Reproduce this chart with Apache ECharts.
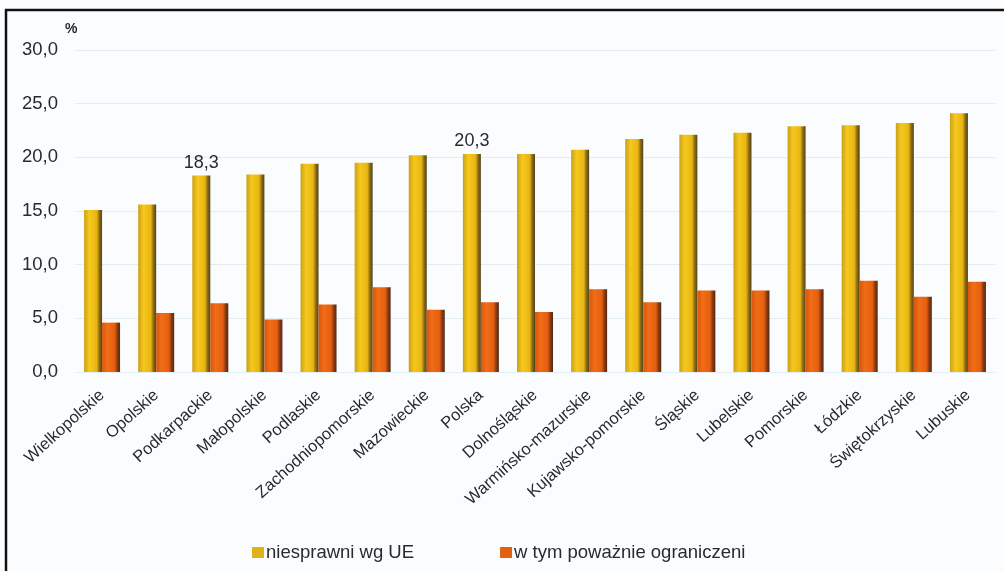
<!DOCTYPE html>
<html>
<head>
<meta charset="utf-8">
<script src="https://cdn.jsdelivr.net/npm/echarts@6/dist/echarts.min.js"></script>
<style>
html,body{margin:0;padding:0;background:#fbfcfe;}
#c{width:1004px;height:571px;}
</style>
</head>
<body>
<div id="c"></div>
<script>
const categories = ['Wielkopolskie','Opolskie','Podkarpackie','Małopolskie','Podlaskie','Zachodniopomorskie','Mazowieckie','Polska','Dolnośląskie','Warmińsko-mazurskie','Kujawsko-pomorskie','Śląskie','Lubelskie','Pomorskie','Łódzkie','Świętokrzyskie','Lubuskie'];
const niesprawni = [15.1, 15.6, 18.3, 18.4, 19.4, 19.5, 20.2, 20.3, 20.3, 20.7, 21.7, 22.1, 22.3, 22.9, 23.0, 23.2, 24.1];
const powaznie = [4.6, 5.5, 6.4, 4.9, 6.3, 7.9, 5.8, 6.5, 5.6, 7.7, 6.5, 7.6, 7.6, 7.7, 8.5, 7.0, 8.4];
const labelledCategories = ['Podkarpackie', 'Polska'];
const yTicks = [0, 5, 10, 15, 20, 25, 30];

const chart = echarts.init(document.getElementById('c'), null, {renderer: 'canvas'});
const font = 'Liberation Sans, Arial, sans-serif';
const txt = '#262b30';
const yellowGrad = new echarts.graphic.LinearGradient(0, 0, 1, 0, [
  {offset: 0, color: '#c9a11a'},
  {offset: 0.3, color: '#f6c81c'},
  {offset: 0.7, color: '#e8b513'},
  {offset: 0.85, color: '#8c6c12'},
  {offset: 1, color: '#4f4320'}
]);
const orangeGrad = new echarts.graphic.LinearGradient(0, 0, 1, 0, [
  {offset: 0, color: '#d8560e'},
  {offset: 0.3, color: '#f26d16'},
  {offset: 0.7, color: '#e45f10'},
  {offset: 0.85, color: '#8e3a0e'},
  {offset: 1, color: '#4d2a18'}
]);
const fmt = v => v.toFixed(1).replace('.', ',');

chart.setOption({
  backgroundColor: '#fbfcfe',
  animation: false,
  grid: {left: 75, right: 9, top: 50, bottom: 199, containLabel: false},
  legend: {
    left: 247, top: 538,
    icon: 'rect', itemWidth: 12, itemHeight: 11, itemGap: 86,
    textStyle: {fontFamily: font, fontSize: 18.5, color: txt, padding: [0, 0, 0, -3]},
    data: [
      {name: 'niesprawni wg UE', itemStyle: {color: '#e0b21a'}},
      {name: 'w tym poważnie ograniczeni', itemStyle: {color: '#e2600f'}}
    ]
  },
  xAxis: {
    type: 'category',
    data: categories,
    axisLine: {show: false},
    axisTick: {show: false},
    axisLabel: {rotate: 42, interval: 0, margin: 21, fontFamily: font, fontSize: 16.5, color: txt}
  },
  yAxis: {
    type: 'value', min: yTicks[0], max: yTicks[yTicks.length - 1], interval: 5,
    name: '%', nameLocation: 'end', nameGap: 14,
    nameTextStyle: {fontFamily: font, fontSize: 14, fontWeight: 'bold', color: txt, align: 'left', padding: [0, 0, 0, -10]},
    axisLine: {show: false}, axisTick: {show: false},
    axisLabel: {formatter: fmt, fontFamily: font, fontSize: 18.5, color: txt, margin: 17},
    splitLine: {lineStyle: {color: '#e2ecf3', width: 1}}
  },
  series: [
    {
      name: 'niesprawni wg UE', type: 'bar', barWidth: 18, barGap: '0%',
      itemStyle: {color: yellowGrad},
      data: niesprawni.map((v, i) => labelledCategories.includes(categories[i])
        ? {value: v, label: {show: true, position: 'top', distance: 4, formatter: p => fmt(p.value), fontFamily: font, fontSize: 18, color: txt}}
        : v)
    },
    {
      name: 'w tym poważnie ograniczeni', type: 'bar', barWidth: 18,
      itemStyle: {color: orangeGrad},
      data: powaznie
    }
  ],
  graphic: [
    {type: 'rect', shape: {x: 6, y: 10, width: 1200, height: 700}, style: {fill: 'none', stroke: '#111', lineWidth: 2.5}, silent: true}
  ]
});
</script>
</body>
</html>
